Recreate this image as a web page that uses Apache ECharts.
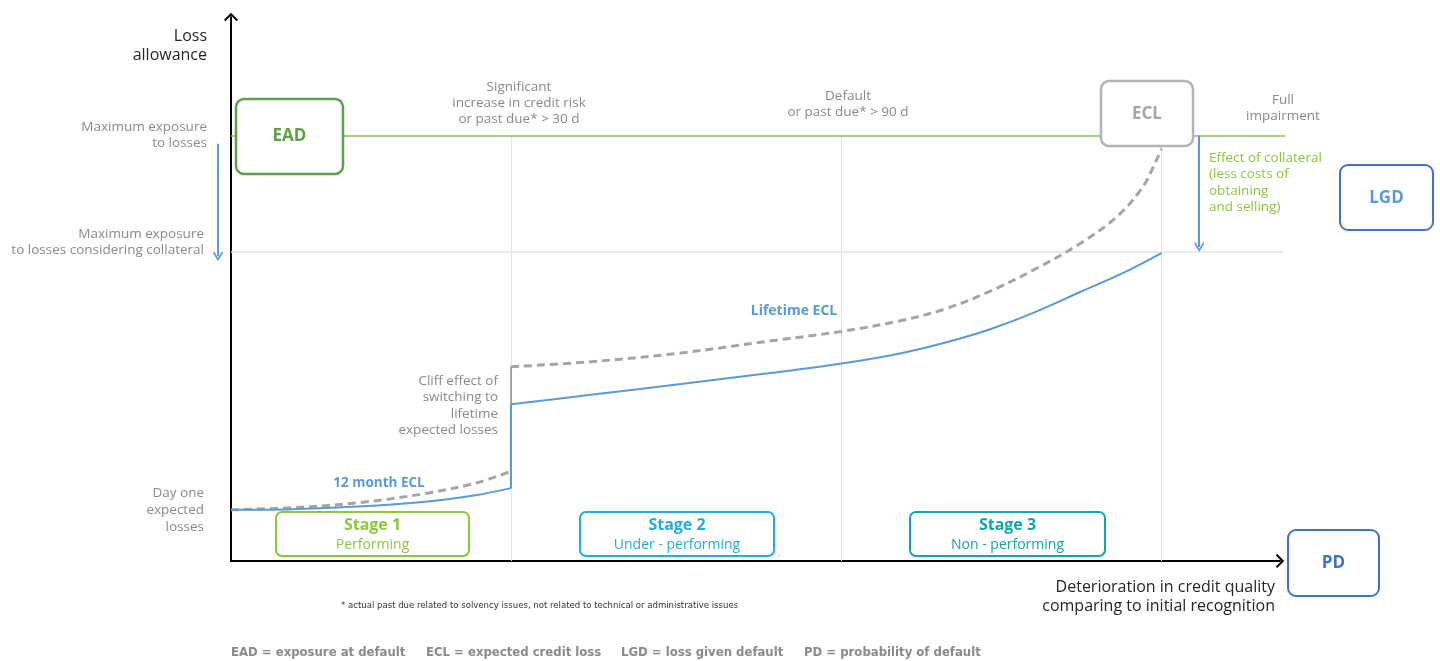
<!DOCTYPE html>
<html>
<head>
<meta charset="utf-8">
<script src="https://cdn.jsdelivr.net/npm/echarts@6/dist/echarts.min.js"></script>
<style>
  html, body { margin: 0; padding: 0; background: #fff; }
  #main { width: 1440px; height: 661px; }
</style>
</head>
<body>
<div id="main"></div>
<script>
// stage borders on the x scale (0 = initial recognition, 100 = end of axis)
var stageX = [26.7, 58.2, 88.7];
// levels on the y scale (0..100)
var eadLevel = 78.2;
var collateralLevel = 56.9;

// 12 month ECL (stage 1)
var ecl12X = [0, 5.8, 12.1, 18.5, 23.3, 26.7];
var ecl12Y = [9.4, 9.5, 10.0, 10.9, 12.1, 13.4];
var ecl12NoCollY = [9.4, 9.8, 10.7, 12.4, 14.3, 16.5];

// lifetime ECL (stage 2 and 3)
var lifeX = [26.7, 34.1, 42.7, 51.2, 58.2, 63.9, 68.2, 72.5, 76.7, 80.9, 85.2, 88.7];
var lifeY = [28.8, 30.5, 32.5, 34.5, 36.3, 38.2, 40.2, 42.7, 45.8, 49.4, 53.1, 56.6];
var lifeNoCollX = [26.7, 34.1, 42.7, 51.2, 58.2, 63.9, 68.2, 72.5, 76.7, 80.9, 84.4, 86.9, 88.2, 88.7];
var lifeNoCollY = [35.7, 36.6, 38.2, 40.4, 42.2, 44.2, 46.4, 49.7, 53.7, 58.3, 63.2, 68.7, 73.6, 75.8];

var chevron = 'path://M10,0 L20,10 L18,12 L10,4 L2,12 L0,10 Z';
var font = "'Open Sans', sans-serif";
var narrow = "'Liberation Sans Narrow', 'DejaVu Sans Condensed', sans-serif";
var grey = '#8a8a8a';
var blue = '#5b9bd5';

function pairs(xs, ys) {
  return xs.map(function (x, i) { return [x, ys[i]]; });
}
function seg(x1, y1, x2, y2, color, width) {
  return { coords: [[x1, y1], [x2, y2]], lineStyle: { color: color, width: width, opacity: 1 } };
}

var chart = echarts.init(document.getElementById('main'), null, { renderer: 'canvas' });

// boxes and notes
function box(x, y, w, h, color, lw, r) {
  return { type: 'rect', z: 100, shape: { x: x, y: y, width: w, height: h, r: r },
    style: { fill: '#fff', stroke: color, lineWidth: lw } };
}
function text(x, y, str, color, size, opts) {
  opts = opts || {};
  return { type: 'text', z: 101, x: x, y: y,
    style: { text: str, fill: color, font: (opts.bold ? 'bold ' : '') + size + 'px ' + (opts.family || font),
      align: opts.align || 'left', verticalAlign: opts.va || 'top', lineHeight: opts.lh || size + 3 } };
}

var graphics = [
  text(207, 27, 'Loss\nallowance', '#262626', 16, { align: 'right', lh: 19 }),
  text(207, 119, 'Maximum exposure\nto losses', grey, 13.5, { align: 'right', lh: 16 }),
  text(204, 226, 'Maximum exposure\nto losses considering collateral', grey, 13.5, { align: 'right', lh: 16 }),
  text(204, 485, 'Day one\nexpected\nlosses', grey, 13.5, { align: 'right', lh: 17 }),
  text(519, 79, 'Significant\nincrease in credit risk\nor past due* > 30 d', grey, 13.5, { align: 'center', lh: 16 }),
  text(848, 88, 'Default\nor past due* > 90 d', grey, 13.5, { align: 'center', lh: 16 }),
  text(1283, 92, 'Full\nimpairment', grey, 13.5, { align: 'center', lh: 16 }),
  text(1209, 150, 'Effect of collateral\n(less costs of\nobtaining\nand selling)', '#8cc63e', 13.5, { lh: 16.3 }),
  text(498, 373, 'Cliff effect of\nswitching to\nlifetime\nexpected losses', grey, 13.5, { align: 'right', lh: 16.3 }),
  text(379, 483, '12 month ECL', blue, 13.5, { align: 'center', va: 'middle', bold: true }),
  text(794, 311, 'Lifetime ECL', blue, 14, { align: 'center', va: 'middle', bold: true }),
  text(1275, 578, 'Deterioration in credit quality\ncomparing to initial recognition', '#262626', 16, { align: 'right', lh: 19 }),
  text(341, 606, '* actual past due related to solvency issues, not related to technical or administrative issues', '#333', 9.5,
    { va: 'middle', family: narrow }),

  box(236, 99, 107, 75, '#5ea046', 2.5, 8),
  text(289.5, 136, 'EAD', '#5ea046', 17, { align: 'center', va: 'middle', bold: true }),
  box(1101, 81, 92, 65, '#b3b3b3', 2.5, 8),
  text(1147, 114, 'ECL', '#a6a6a6', 17, { align: 'center', va: 'middle', bold: true }),
  box(1340, 165, 93, 65, '#4472c4', 2, 8),
  text(1386.5, 198, 'LGD', blue, 17, { align: 'center', va: 'middle', bold: true }),
  box(1288, 530, 91, 66, '#4472c4', 2, 8),
  text(1333.5, 563, 'PD', '#4472c4', 17, { align: 'center', va: 'middle', bold: true }),

  box(276, 512, 193, 44, '#8dc63f', 2, 6),
  text(372.5, 525, 'Stage 1', '#8dc63f', 16, { align: 'center', va: 'middle', bold: true }),
  text(372.5, 545, 'Performing', '#8dc63f', 14, { align: 'center', va: 'middle' }),
  box(580, 512, 194, 44, '#25aae1', 2, 6),
  text(677, 525, 'Stage 2', '#25aae1', 16, { align: 'center', va: 'middle', bold: true }),
  text(677, 545, 'Under - performing', '#25aae1', 14, { align: 'center', va: 'middle' }),
  box(910, 512, 195, 44, '#16a3ae', 2, 6),
  text(1007.5, 525, 'Stage 3', '#16a3ae', 16, { align: 'center', va: 'middle', bold: true }),
  text(1007.5, 545, 'Non - performing', '#16a3ae', 14, { align: 'center', va: 'middle' })
];

// abbreviations row
var legendTexts = ['EAD = exposure at default', 'ECL = expected credit loss', 'LGD = loss given default', 'PD = probability of default'];
var legendLeft = [231, 426, 621, 804];
legendTexts.forEach(function (t, i) {
  graphics.push(text(legendLeft[i], 653, t, grey, 13, { va: 'middle', bold: true, family: narrow }));
});

var option = {
  animation: false,
  grid: { left: 231, right: 160, top: 17, bottom: 100 },
  xAxis: {
    type: 'value', min: 0, max: 100,
    axisLine: { lineStyle: { color: '#000', width: 2 }, symbol: ['none', chevron], symbolSize: [14, 9] },
    axisTick: { show: false }, axisLabel: { show: false }, splitLine: { show: false }
  },
  yAxis: {
    type: 'value', min: 0, max: 100,
    axisLine: { lineStyle: { color: '#000', width: 2 }, symbol: ['none', chevron], symbolSize: [14, 9] },
    axisTick: { show: false }, axisLabel: { show: false }, splitLine: { show: false }
  },
  graphic: graphics,
  series: [
    {
      // stage borders and collateral level
      type: 'lines', coordinateSystem: 'cartesian2d', z: 1, clip: false, silent: true,
      data: stageX.map(function (x) { return seg(x, 0, x, eadLevel, '#e3e3e3', 1); })
        .concat([seg(0, collateralLevel, 100.3, collateralLevel, '#e3e3e3', 1.5)])
    },
    {
      // maximum exposure line
      type: 'lines', coordinateSystem: 'cartesian2d', z: 2, clip: false, silent: true,
      data: [seg(0, eadLevel, 100.5, eadLevel, '#84c25e', 1.5)]
    },
    {
      // collateral arrows
      type: 'lines', coordinateSystem: 'cartesian2d', z: 3, clip: false, silent: true,
      symbol: ['none', chevron], symbolSize: [13, 10],
      data: [seg(-1.24, 76.7, -1.24, 56.0, blue, 2), seg(92.3, eadLevel, 92.3, 57.7, blue, 2)]
    },
    {
      // cliff jumps
      type: 'lines', coordinateSystem: 'cartesian2d', z: 4, clip: false, silent: true,
      data: [
        seg(ecl12X[5], ecl12NoCollY[5], lifeNoCollX[0], lifeNoCollY[0], '#a5a5a5', 2),
        seg(ecl12X[5], ecl12Y[5], lifeX[0], lifeY[0], blue, 2)
      ]
    },
    {
      name: '12 month ECL without collateral', type: 'line', z: 4, smooth: 0.35,
      showSymbol: false, data: pairs(ecl12X, ecl12NoCollY),
      lineStyle: { color: '#a5a5a5', width: 3, type: [8, 5] }
    },
    {
      name: 'Lifetime ECL without collateral', type: 'line', z: 4, smooth: 0.35,
      showSymbol: false, data: pairs(lifeNoCollX, lifeNoCollY),
      lineStyle: { color: '#a5a5a5', width: 3, type: [8, 5] }
    },
    {
      name: '12 month ECL', type: 'line', z: 5, smooth: 0.35,
      showSymbol: false, data: pairs(ecl12X, ecl12Y),
      lineStyle: { color: blue, width: 2 }
    },
    {
      name: 'Lifetime ECL', type: 'line', z: 5, smooth: 0.35,
      showSymbol: false, data: pairs(lifeX, lifeY),
      lineStyle: { color: blue, width: 2 }
    }
  ]
};

chart.setOption(option);
</script>
</body>
</html>
